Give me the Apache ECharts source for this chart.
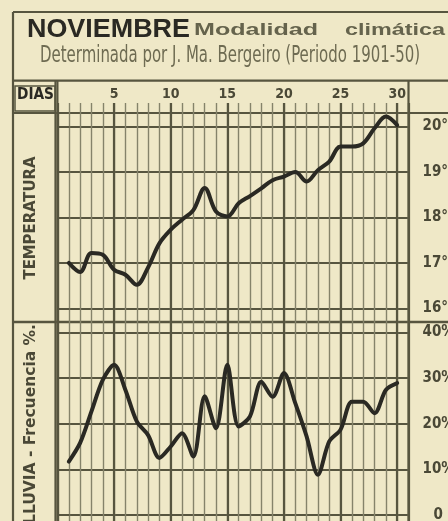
<!DOCTYPE html>
<html><head><meta charset="utf-8">
<script src="https://cdn.jsdelivr.net/npm/echarts@6/dist/echarts.min.js"></script>
<style>html,body{margin:0;padding:0;background:#efe8c7;}#c{width:448px;height:521px;}</style>
</head><body><div id="c"></div>
<script>
// ---- data ----
const days = [1,2,3,4,5,6,7,8,9,10,11,12,13,14,15,16,17,18,19,20,21,22,23,24,25,26,27,28,29,30];
const temperature = [17.0,16.8,17.22,17.18,16.85,16.74,16.52,16.9,17.43,17.73,17.95,18.16,18.65,18.13,18.02,18.31,18.47,18.64,18.82,18.9,19.0,18.79,19.04,19.23,19.56,19.56,19.63,19.96,20.22,20.03];
const rainFrequency = [11.7,15.8,22.7,29.6,32.9,27.4,20.5,17.5,12.5,15.0,17.9,12.8,26.0,19.0,32.9,19.4,21.6,29.2,25.9,31.1,24.5,17.2,8.8,16.1,18.7,24.8,24.8,22.3,27.4,28.9];
const dayLabels = [5,10,15,20,25,30];
const tempTicks = [16,17,18,19,20];
const rainTicks = [0,10,20,30,40];
const titleMain = 'NOVIEMBRE';
const titleWords = ['Modalidad','climática'];
const subtitle = 'Determinada por J. Ma. Bergeiro (Periodo 1901-50)';
const tempLabel = 'TEMPERATURA';
const rainLabel = 'LLUVIA - Frecuencia %.';
const headerLabel = 'DIAS';

// ---- styles ----
const BG = '#efe8c7';
const INK = '#2a2923';
const GRID_DARK = '#57553f';
const GRID_THIN = '#85836a';
const LABEL = '#4a4836';
const NARROW = "'Liberation Sans Narrow','DejaVu Sans Condensed','Arial Narrow','Liberation Sans',sans-serif";

const ctx = document.createElement('canvas').getContext('2d');
function w(text, font){ ctx.font = font; return ctx.measureText(text).width; }
function fitText(text, font, x, y, width, fill){
  const sx = width / w(text, font);
  return {type:'text', x:x, y:y, scaleX:sx, silent:true,
    style:{text:text, font:font, fill:fill, align:'left', verticalAlign:'top'}};
}
function vtext(text, font, cx, cy, len, fill){
  const sx = len / w(text, font);
  return {type:'text', x:cx, y:cy, rotation:Math.PI/2, scaleX:sx, silent:true,
    style:{text:text, font:font, fill:fill, align:'center', verticalAlign:'middle'}};
}
function line(x1,y1,x2,y2,wd,col){
  return {type:'line', silent:true, shape:{x1:x1,y1:y1,x2:x2,y2:y2}, style:{stroke:col||GRID_DARK, lineWidth:wd||2}};
}

const L = 57.5, R = 408.5, GT = 113, SEP = 322, H = 521;
const gridRight = 448 - R;

const pairs = (ys) => days.map((d,i)=>[d, ys[i]]);

const xBase = (gi, thick, top) => ({
  gridIndex: gi, type:'value', min:0, max:31, interval: thick ? 5 : 1, position:'top',
  axisLine:{show:false},
  axisTick:{show: top, length:10, inside:false, lineStyle:{color: thick?GRID_DARK:GRID_THIN, width: thick?2.2:1.4}},
  axisLabel:{show: top && thick, margin:12, color:LABEL, fontFamily:NARROW, fontWeight:'bold', fontSize:14,
    formatter: v => dayLabels.indexOf(v) >= 0 ? String(v) : ''},
  splitLine:{show:true, lineStyle:{color: thick?GRID_DARK:GRID_THIN, width: thick?2.2:1.4}}
});

const yBase = (gi, min, max, ticks, fmt) => ({
  gridIndex: gi, type:'value', position:'right', min:min, max:max,
  axisLine:{show:true, lineStyle:{color:GRID_DARK, width:2.2}},
  axisTick:{show:true, length:12, inside:false, customValues:ticks, lineStyle:{color:GRID_DARK, width:2}},
  axisLabel:{show:true, margin:14, customValues:ticks, color:LABEL, fontFamily:NARROW, fontWeight:'bold', fontSize:15,
    formatter: fmt, rich:{z:{padding:[0,0,0,11], color:LABEL, fontFamily:NARROW, fontWeight:'bold', fontSize:15}}},
  splitLine:{show:true, lineStyle:{color:GRID_DARK, width:2}}
});

const chart = echarts.init(document.getElementById('c'), null, {renderer:'canvas'});
chart.setOption({
  backgroundColor: BG,
  animation:false,
  grid:[
    {left:L, right:gridRight, top:GT, height:SEP-GT, outerBoundsMode:'none', containLabel:false},
    {left:L, right:gridRight, top:SEP, height:H-SEP, outerBoundsMode:'none', containLabel:false}
  ],
  xAxis:[ xBase(0,false,true), xBase(0,true,true), xBase(1,false,false), xBase(1,true,false) ],
  yAxis:[
    yBase(0, 15.7, 20.297, tempTicks, v => v + '°'),
    yBase(1, -1.34, 42.3, rainTicks, v => v === 0 ? '{z|0}' : v + '%')
  ],
  series:[
    {type:'line', xAxisIndex:0, yAxisIndex:0, data:pairs(temperature), smooth:0.35, showSymbol:false,
      lineStyle:{color:INK, width:4, cap:'round', join:'round'}, clip:false},
    {type:'line', xAxisIndex:2, yAxisIndex:1, data:pairs(rainFrequency), smooth:0.3, showSymbol:false,
      lineStyle:{color:INK, width:4, cap:'round', join:'round'}, clip:false}
  ],
  graphic:[
    // frame
    line(13,12,448,12,2.2,GRID_DARK),
    line(13,12,13,521,2.2,GRID_DARK),
    line(13,80.7,448,80.7,2.2,GRID_DARK),
    line(13,113,448,113,2.2,GRID_DARK),
    line(13,SEP,448,SEP,2.4,GRID_DARK),
    line(55.5,80.7,55.5,521,2.2,GRID_DARK),
    line(L,80.7,L,521,2,GRID_DARK),
    line(R,80.7,R,521,2.2,GRID_DARK),
    {type:'rect', silent:true, shape:{x:15,y:86,width:40,height:25}, style:{fill:'none', stroke:GRID_DARK, lineWidth:1.5}},
    fitText(headerLabel, "bold 15px " + NARROW, 17, 88, 37, INK),
    // titles
    fitText(titleMain, "bold 26px 'Liberation Sans',sans-serif", 27, 17, 163, INK),
    fitText(titleWords[0], "bold 16px 'Liberation Sans',sans-serif", 194, 23, 124, '#65634c'),
    fitText(titleWords[1], "bold 16px 'Liberation Sans',sans-serif", 345, 23, 100, '#65634c'),
    fitText(subtitle, "23px " + NARROW, 40, 45, 380, '#6e6b52'),
    // side labels
    vtext(tempLabel, "bold 16px " + NARROW, 31, 218, 123, LABEL),
    vtext(rainLabel, "bold 16px " + NARROW, 31, 424, 200, LABEL)
  ]
});
</script></body></html>
